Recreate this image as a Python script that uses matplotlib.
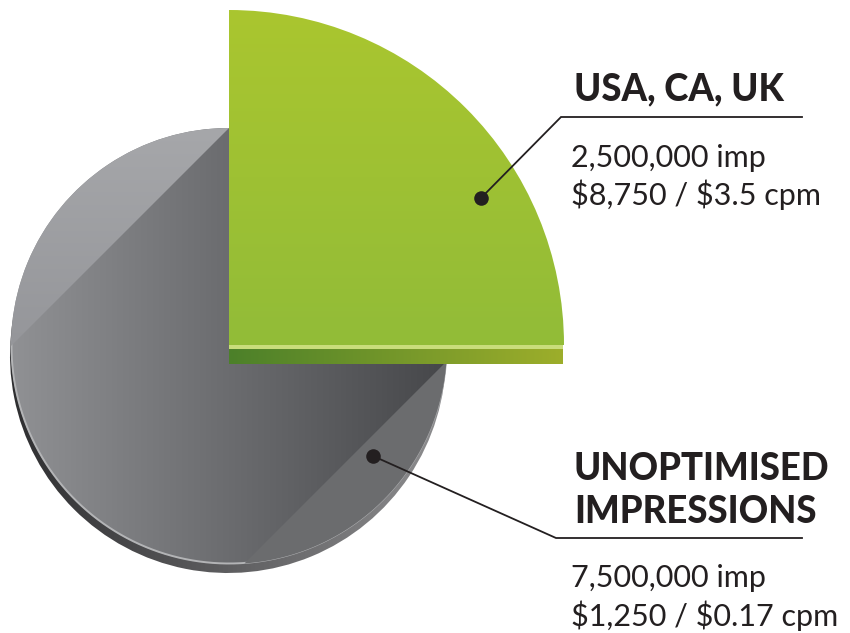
import numpy as np
import matplotlib
matplotlib.use("Agg")
import matplotlib.pyplot as plt
from matplotlib.patches import Wedge, Rectangle, Polygon
from matplotlib.colors import to_rgb

# ---- data ----
segments = ["USA, CA, UK", "UNOPTIMISED\nIMPRESSIONS"]
impressions = [2500000, 7500000]
spend = [8750, 1250]
cpm = [3.5, 0.17]

W, H = 850, 633
fig = plt.figure(figsize=(W / 100, H / 100), dpi=100)
ax = fig.add_axes([0, 0, 1, 1])
ax.set_xlim(0, W)
ax.set_ylim(0, H)
ax.axis("off")


def Y(py):
    return H - py


def gradient(extent, c0, c1, horizontal, clip, z):
    t = np.linspace(0, 1, 256)
    a, b = np.array(to_rgb(c0)), np.array(to_rgb(c1))
    cols = (1 - t)[:, None] * a + t[:, None] * b
    img = cols[None, :, :] if horizontal else cols[:, None, :]
    im = ax.imshow(img, extent=extent, origin="upper", aspect="auto",
                   interpolation="bilinear", zorder=z)
    im.set_clip_path(clip)
    return im


total = sum(impressions)
fracs = [v / total for v in impressions]
ang_green = 360 * fracs[0]

# geometry (layout)
gcx, gcy, gr = 229, Y(346), 218      # grey disc
kcx, kcy, kr = 229, Y(345), 335      # enlarged green slice

# ---- grey rim (3D edge) ----
rim = Wedge((gcx - 1, gcy - 9), gr, ang_green, 360, facecolor="none", edgecolor="none", zorder=1)
ax.add_patch(rim)
gradient((gcx - gr - 2, gcx + gr, gcy - gr - 12, gcy + gr), "#2e2e30", "#8e8e90", True, rim, 1)

# ---- grey face ----
face = Wedge((gcx, gcy), gr, ang_green, 360, facecolor="none", edgecolor="none", zorder=2)
ax.add_patch(face)
gradient((gcx - gr, gcx + gr, gcy - gr, gcy + gr), "#909194", "#46474a", True, face, 2)

# light rim highlight line
th = np.radians(np.linspace(178, 360, 200))
ax.plot(gcx + (gr - 0.5) * np.cos(th), gcy + (gr - 0.5) * np.sin(th),
        color="#b3b4b6", lw=1.4, zorder=2.5, solid_capstyle="butt")

# upper-left highlight segment (chord from 90deg to 180deg)
ts = np.radians(np.linspace(90, 180, 120))
seg_pts = np.column_stack([gcx + gr * np.cos(ts), gcy + gr * np.sin(ts)])
seg = Polygon(seg_pts, closed=True, facecolor="none", edgecolor="none", zorder=3)
ax.add_patch(seg)
gradient((gcx - gr, gcx, gcy, gcy + gr), "#a6a7aa", "#95969a", False, seg, 3)

# lower-right lighter segment (chord parallel to 0deg-270deg chord, shifted)
off = 14
ts = np.radians(np.linspace(-90, 0, 200))
cx_pts = gcx + gr * np.cos(ts)
cy_pts = gcy + gr * np.sin(ts)
c = (gcx + gr) - gcy + off
mask = (cx_pts - cy_pts) >= c
lr_pts = np.column_stack([cx_pts[mask], cy_pts[mask]])
seg2 = Polygon(lr_pts, closed=True, facecolor="#6b6c6e", edgecolor="none", zorder=3)
ax.add_patch(seg2)

# ---- green slice 3D band ----
ax.add_patch(Rectangle((kcx, kcy - 4), kr - 1, 4, facecolor="#c9dd7b", edgecolor="none", zorder=4))
band = Rectangle((kcx, kcy - 19), kr - 1, 15, facecolor="none", edgecolor="none", zorder=4)
ax.add_patch(band)
gradient((kcx, kcx + kr, kcy - 19, kcy - 4), "#4c8029", "#9dae2b", True, band, 4)

# ---- green slice face ----
green = Wedge((kcx, kcy), kr, 0, ang_green, facecolor="none", edgecolor="none", zorder=5)
ax.add_patch(green)
gradient((kcx, kcx + kr, kcy, kcy + kr), "#aac62f", "#92bc38", False, green, 5)

# ---- leader lines and dots ----
ink = "#231f20"
anchors = [(481, Y(198)), (373, Y(456))]
elbows = [(561, Y(117)), (556, Y(538))]
ends = [802, 802]
for (ax0, ay0), (ex, ey), xe in zip(anchors, elbows, ends):
    ax.plot([ax0, ex, xe], [ay0, ey, ey], color=ink, lw=1.3, zorder=6,
            solid_joinstyle="miter")
    ax.scatter([ax0], [ay0], s=110, color=ink, zorder=7, linewidths=0)

# ---- labels ----
title_font = dict(family=["Lato", "DejaVu Sans"], weight="black", color=ink, fontsize=26.3)
body_font = dict(family=["Lato", "DejaVu Sans"], weight="normal", color=ink, fontsize=22)

title_lines = [segments[0].split("\n"), segments[1].split("\n")]
title_baselines = [[100], [480, 523]]
body_baselines = [[167, 205], [587, 626]]

for i in range(2):
    for line, b in zip(title_lines[i], title_baselines[i]):
        ax.text(574, Y(b), line, va="baseline", ha="left", zorder=8, **title_font)
    body = [f"{impressions[i]:,} imp", f"\\${spend[i]:,} / \\${cpm[i]:g} cpm"]
    for line, b in zip(body, body_baselines[i]):
        ax.text(571, Y(b), line, va="baseline", ha="left", zorder=8, **body_font)

fig.savefig("out.png", dpi=100, facecolor="white")
